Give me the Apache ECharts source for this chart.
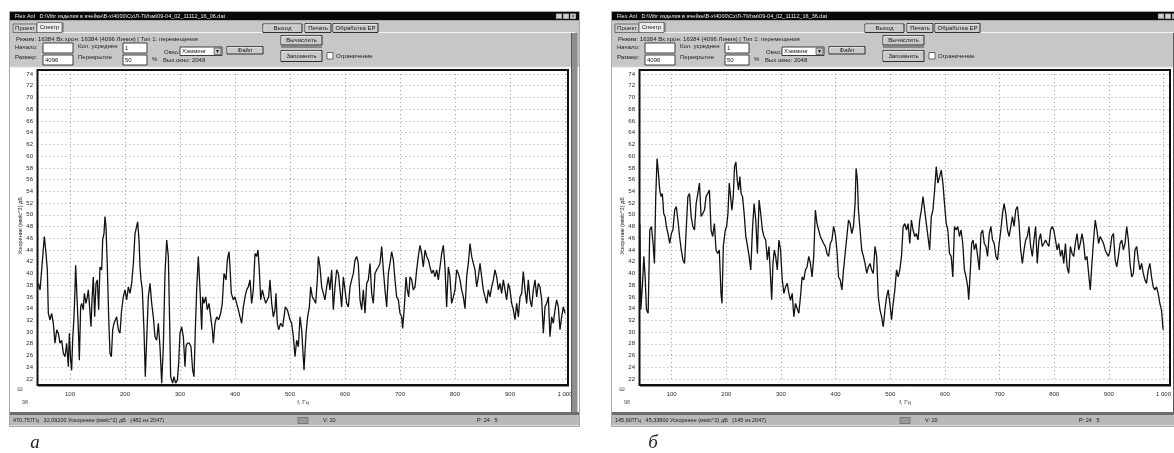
<!DOCTYPE html>
<html>
<head>
<meta charset="utf-8">
<script src="https://cdn.jsdelivr.net/npm/echarts@6/dist/echarts.min.js"></script>
<style>
html, body { margin: 0; padding: 0; background: #ffffff; }
#chart { width: 1174px; height: 453px; }
</style>
</head>
<body>
<div id="chart"></div>
<script>
// Frequency axis (Hz) and level axis (dB) ticks
const freqTicks = { min: 0, max: 1000, step: 100 };
const levelTicks = { min: 22, max: 74, step: 2 };

// Spectrum (а): [frequency, Hz ; acceleration level, dB]
const spectrumA = [
  [42.4,38.3],[45.5,37.2],[48.5,40.6],[53.3,46.3],[56.4,43.4],[58.8,40.6],[60.6,33.2],[63.6,32.1],[66.7,33.2],[69.7,31.5],
  [72.7,28.1],[75.8,30.4],[78.8,29.8],[81.8,28.1],[84.8,28.6],[87.9,26.4],[90.9,25.8],[93.9,28.1],[97.0,24.1],[98.8,29.8],
  [101.2,25.2],[103.0,23.5],[104.8,28.6],[107.3,32.6],[109.1,37.2],[110.3,41.4],[112.1,37.2],[115.2,30.4],[117.0,25.2],[119.4,34.3],
  [121.2,34.9],[124.2,33.8],[126.1,36.6],[129.1,34.9],[131.5,36.0],[133.3,37.2],[135.2,34.9],[138.2,30.9],[140.0,35.5],[142.4,39.4],
  [144.8,32.6],[147.3,38.3],[149.7,38.9],[152.1,33.8],[154.5,41.1],[157.6,40.6],[159.4,45.7],[161.8,46.8],[163.6,49.7],[165.4,48.0],
  [167.9,41.1],[170.3,32.6],[172.7,26.4],[175.2,25.8],[177.6,30.4],[180.0,31.5],[182.4,31.5],[184.8,32.6],[187.9,30.4],[190.9,29.8],
  [193.9,33.8],[197.0,36.0],[200.0,37.2],[203.0,35.5],[206.1,37.7],[209.1,36.6],[212.1,38.3],[215.2,41.7],[218.2,46.8],[221.2,48.0],
  [223.0,48.8],[225.5,45.7],[227.3,41.1],[229.1,38.9],[231.5,37.2],[234.5,30.4],[236.9,22.4],[239.4,28.6],[242.4,36.0],[245.5,38.3],
  [248.5,34.9],[251.5,32.6],[254.5,29.2],[257.6,28.6],[260.6,31.5],[263.6,27.5],[266.7,21.3],[269.7,27.5],[272.7,40.0],[275.8,45.7],
  [278.8,42.9],[280.6,34.3],[283.0,22.4],[286.7,21.3],[289.1,22.4],[292.1,21.3],[295.2,21.8],[297.6,24.7],[300.0,29.8],[303.0,30.9],
  [306.1,29.2],[309.1,24.1],[310.9,27.5],[313.3,28.1],[317.0,28.1],[320.0,27.5],[323.0,23.5],[325.5,22.4],[327.9,30.4],[330.3,37.2],
  [333.3,42.9],[336.4,37.2],[339.4,30.4],[341.2,36.0],[343.6,34.9],[346.7,36.0],[349.7,33.8],[352.7,34.9],[355.8,32.6],[358.8,30.4],
  [360.6,28.1],[363.6,31.5],[366.7,32.6],[370.3,32.1],[373.9,33.2],[376.9,34.9],[380.0,40.0],[383.6,38.9],[386.1,42.3],[389.1,43.7],
  [390.9,41.1],[393.3,36.6],[397.0,35.5],[400.0,36.0],[403.0,34.9],[406.1,33.8],[409.1,32.6],[412.1,31.5],[415.2,34.3],[418.2,36.0],
  [421.2,37.2],[424.2,37.7],[427.3,38.9],[430.3,34.9],[433.3,37.2],[436.4,43.4],[439.4,42.9],[441.8,44.0],[444.2,40.6],[446.7,35.5],
  [449.7,37.2],[452.7,36.0],[455.8,34.9],[458.8,35.5],[461.2,36.0],[463.6,38.9],[466.7,34.9],[469.7,32.6],[472.7,33.8],[474.5,36.6],
  [476.9,31.5],[479.4,30.4],[483.0,31.5],[486.7,30.9],[489.1,32.6],[491.5,34.3],[495.2,33.8],[498.8,34.0],
  [500.0,32.1],[503.0,31.5],[506.1,29.2],[509.1,25.8],[512.1,28.6],[515.2,27.5],[518.2,32.6],[521.2,30.4],[525.5,23.5],[529.1,29.8],
  [532.1,32.6],[535.2,34.3],[537.6,37.7],[540.6,36.0],[543.6,35.5],[546.7,34.9],[549.7,38.9],[551.5,42.9],[554.5,41.1],[557.6,37.7],
  [560.6,36.6],[563.6,35.5],[566.7,37.7],[569.7,39.4],[572.7,37.2],[575.8,40.6],[578.8,33.8],[581.8,37.7],[584.8,40.6],[587.9,40.0],
  [590.9,37.2],[593.9,34.3],[597.0,39.4],[600.0,37.2],[603.0,34.9],[606.1,34.3],[609.1,37.7],[612.1,38.9],[615.2,40.0],[618.2,42.3],
  [621.2,42.9],[624.2,41.7],[627.3,35.5],[630.3,33.8],[633.3,37.2],[636.4,33.2],[639.4,38.3],[642.4,38.9],[645.5,41.7],[648.5,36.6],
  [651.5,34.9],[654.5,40.0],[657.6,40.6],[660.6,41.1],[663.6,41.7],[666.7,44.6],[669.7,40.6],[672.7,37.2],[675.8,34.3],[678.8,40.0],
  [681.8,41.7],[684.8,43.7],[687.9,42.3],[690.9,38.9],[693.9,36.0],[697.0,35.5],[700.0,33.2],[703.0,32.6],[704.8,30.6],[707.9,34.3],
  [710.9,39.4],[713.3,37.2],[715.8,36.0],[718.2,39.4],[721.2,38.9],[724.2,37.2],[727.3,37.7],[730.3,40.6],[733.3,42.9],[736.4,44.8],
  [739.4,43.4],[742.4,41.1],[745.5,44.0],[748.5,42.9],[751.5,42.3],[754.5,41.1],[757.6,40.0],[760.6,40.6],[763.6,39.4],[766.7,40.6],
  [769.7,38.9],[772.7,41.1],[775.8,43.4],[778.8,44.8],[781.8,41.1],[784.8,34.3],[787.9,41.1],[790.9,39.4],[793.9,34.9],[797.0,36.0],
  [800.0,37.2],[803.0,40.6],[806.1,40.0],[809.1,38.9],[812.1,37.2],[815.2,36.0],[818.2,34.0],[821.2,39.4],[824.2,41.7],[827.3,45.1],
  [830.3,42.9],[833.3,41.7],[836.4,40.6],[839.4,37.7],[842.4,39.4],[845.5,41.7],[848.5,39.4],[851.5,37.2],[854.5,36.0],[857.6,34.9],
  [860.6,37.2],[863.6,36.0],[866.7,37.7],[869.7,38.9],[872.7,40.6],[875.8,39.4],[878.8,37.2],[881.8,38.3],[884.8,36.6],[887.9,38.9],
  [890.9,37.2],[893.9,35.5],[897.0,38.3],[900.0,37.2],[903.0,34.9],[906.1,33.8],[909.1,32.1],[912.1,34.9],[915.2,32.6],[918.2,36.0],
  [921.2,36.6],[924.2,40.3],[927.3,37.2],[930.3,34.9],[933.3,38.9],[936.4,35.5],[939.4,34.3],[942.4,37.2],[945.5,38.9],[948.5,36.0],
  [951.5,38.3],[954.5,37.7],[957.6,35.5],[960.6,29.8],[963.6,34.3],[966.7,34.9],[969.7,36.0],[972.7,29.2],[975.8,32.6],[978.8,31.5],
  [981.8,33.8],[984.8,35.5],[987.9,34.3],[990.9,30.4],[993.9,32.6],[997.0,34.3],[1000.0,33.2]
];

// Spectrum (б): [frequency, Hz ; acceleration level, dB]
const spectrumB = [
  [41.8,48.5],[43.6,33.8],[46.7,38.3],[49.1,42.9],[51.5,39.4],[53.9,33.8],[57.0,33.2],[60.0,47.4],[63.0,48.0],[66.1,45.1],
  [68.5,41.7],[70.9,53.1],[73.3,59.6],[75.8,57.1],[78.2,54.2],[80.6,53.1],[83.0,53.6],[85.5,50.2],[87.9,49.7],[90.3,48.0],
  [93.3,46.8],[96.4,45.1],[99.4,46.8],[102.4,47.4],[105.5,50.8],[108.5,51.4],[111.5,49.1],[114.5,46.3],[117.6,44.0],[120.6,42.3],
  [123.6,41.7],[126.6,47.4],[129.7,53.1],[132.7,53.6],[135.7,49.7],[138.8,48.0],[141.8,47.4],[144.8,51.9],[147.9,53.6],[150.9,55.4],
  [153.9,49.7],[157.0,50.2],[160.0,50.8],[163.0,53.1],[166.0,53.6],[169.1,54.2],[172.1,47.4],[175.1,46.3],[178.2,48.5],[181.2,44.0],
  [184.2,43.4],[187.2,44.0],[190.3,36.6],[192.1,34.9],[194.5,44.6],[198.2,47.4],[200.6,48.0],[203.0,50.2],[205.4,55.4],[207.9,53.1],
  [210.3,50.8],[212.7,53.1],[215.1,58.2],[217.6,59.0],[220.0,55.9],[222.4,54.2],[224.8,56.5],[227.2,53.6],[229.7,53.1],[232.7,50.2],
  [235.7,46.3],[238.8,44.6],[241.8,42.9],[244.8,40.6],[247.8,47.4],[250.9,51.9],[253.9,49.1],[256.9,43.4],[260.0,52.5],[263.0,50.2],
  [266.0,47.4],[269.0,46.3],[272.1,45.7],[275.1,42.3],[278.1,44.6],[281.2,38.9],[283.0,35.5],[285.4,41.7],[287.8,44.0],[290.3,42.9],
  [293.3,40.6],[296.3,45.7],[299.3,44.0],[302.4,38.9],[305.4,36.6],[308.4,37.7],[311.5,38.3],[314.5,36.6],[317.5,35.4],[320.6,36.6],
  [323.6,32.6],[326.6,34.9],[329.6,34.9],[332.7,33.2],[335.7,36.0],[338.7,39.4],[341.8,38.9],[344.8,40.6],[347.8,41.1],[350.9,42.9],
  [353.9,41.7],[356.9,39.4],[360.0,42.9],[363.0,50.8],[366.0,48.5],[369.0,47.4],[372.1,46.3],[375.1,45.7],[378.1,45.1],[381.2,44.6],
  [384.2,43.4],[387.2,42.9],[390.3,45.1],[393.3,45.7],[396.3,48.0],[399.3,46.8],[402.4,44.0],[405.4,39.4],[408.4,38.9],[411.5,37.2],
  [414.5,40.6],[417.5,43.4],[420.6,46.3],[423.6,49.1],[426.6,48.5],[429.6,46.8],[432.7,48.0],[435.7,51.9],[437.5,57.9],[439.9,55.9],
  [441.8,50.8],[444.8,47.4],[447.8,44.0],[450.9,42.9],[453.9,41.7],[456.9,40.0],[460.0,41.1],[463.0,41.7],[466.0,40.6],[469.0,40.0],
  [472.1,44.6],[475.1,42.9],[478.1,36.0],[481.2,33.8],[484.2,32.6],[487.2,30.9],[490.3,33.8],[493.3,36.0],[496.3,37.2],[499.3,34.9],
  [502.4,32.1],[505.4,34.9],[508.4,37.2],[511.5,40.6],[514.5,39.4],[517.5,40.6],[520.6,42.9],[523.6,48.0],[526.6,48.5],[529.7,47.4],
  [532.7,48.5],[535.7,45.1],[538.7,49.1],[541.8,47.4],[544.8,46.3],[547.8,46.8],[550.9,45.7],[553.9,49.1],[556.9,50.8],[560.0,53.1],
  [563.0,50.8],[566.0,48.5],[569.0,46.3],[572.1,44.0],[575.1,49.7],[578.1,50.8],[581.2,54.2],[584.2,58.2],[587.2,55.4],[590.3,56.5],
  [593.3,57.6],[596.3,55.4],[599.3,51.9],[602.4,48.5],[605.4,47.4],[608.4,43.4],[611.5,42.9],[614.5,39.4],[617.5,48.0],[620.6,47.4],
  [623.6,48.0],[626.6,46.3],[629.6,47.4],[632.7,45.1],[635.7,40.6],[638.7,39.4],[641.8,37.7],[643.6,35.5],[646.6,40.6],[649.0,45.1],
  [651.5,45.7],[653.9,44.0],[656.9,45.1],[660.0,42.9],[663.0,40.6],[666.0,46.8],[669.0,47.4],[672.1,45.1],[675.1,44.6],[678.1,42.9],
  [681.2,46.8],[684.2,48.0],[687.2,45.7],[690.3,45.1],[693.3,42.9],[696.3,42.3],[699.3,45.1],[702.4,47.4],[705.4,50.2],[708.4,51.9],
  [711.5,50.2],[714.5,47.4],[717.5,46.3],[720.6,48.0],[723.6,49.7],[726.6,48.0],[729.6,50.8],[732.7,51.4],[735.7,48.5],[738.7,44.0],
  [741.8,41.7],[744.8,44.0],[747.8,45.7],[750.9,46.3],[753.9,48.0],[756.9,44.6],[760.0,42.9],[763.0,45.7],[766.0,48.0],[769.0,41.7],
  [772.1,45.7],[775.1,46.8],[778.1,44.6],[781.2,45.1],[784.2,45.7],[787.2,45.1],[790.3,44.6],[793.3,47.4],[796.3,48.0],[799.3,47.4],
  [802.4,45.7],[805.4,44.0],[808.4,45.1],[811.5,42.9],[814.5,44.0],[817.5,41.7],[820.6,45.1],[823.6,41.1],[826.6,40.0],[829.6,44.6],
  [832.7,43.4],[835.7,42.9],[838.7,45.1],[841.8,46.8],[844.8,44.0],[847.8,45.1],[850.9,46.8],[853.9,45.1],[856.9,42.3],[860.0,42.9],
  [863.0,40.0],[866.0,37.2],[869.0,41.7],[872.1,45.7],[875.1,49.1],[878.1,47.4],[881.2,45.1],[884.2,46.3],[887.2,45.7],[890.3,45.1],
  [893.3,44.0],[896.3,43.4],[899.3,42.9],[902.4,44.0],[905.4,46.3],[908.4,46.8],[911.5,42.3],[914.5,41.1],[917.5,42.9],[920.6,45.1],
  [923.6,45.7],[926.6,44.0],[929.6,45.1],[932.7,48.0],[935.7,45.7],[938.7,41.7],[941.8,39.4],[944.8,40.0],[947.8,44.0],[950.9,44.6],
  [953.9,42.3],[956.9,40.6],[960.0,41.7],[963.0,40.0],[966.0,38.9],[969.0,38.3],[972.1,40.6],[975.1,41.7],[978.1,39.4],[981.2,37.7],
  [984.2,37.2],[987.2,37.7],[990.3,36.6],[993.3,34.9],[996.3,33.8],[999.3,30.4]
];

// Texts of the two analyser windows
const windowTitles = [
  'Flex Anl   D:\\Vibr изделия в ячейке\\В-х\\4000\\Сх\\Л-7\\Изм\\09-04_02_11112_16_06.dat',
  'Flex Anl   D:\\Vibr изделия в ячейке\\В-х\\4000\\Сх\\Л-7\\Изм\\09-04_02_11112_16_36.dat'
];
const statusTexts = [
  '470,757Гц   32,09200 Ускорение (мм/с^2) дБ   (482 из 2047)',
  '145,607Гц   45,33800 Ускорение (мм/с^2) дБ   (145 из 2047)'
];
const captions = ['а', 'б'];
const levelName = 'Ускорение (мм/с^2) дБ';
const freqName = 'f, Гц';

const FONT = 'Liberation Sans';
const OFFSET = 602; // horizontal shift of the second window

function chrome(dx, idx) {
  const els = [];
  const rect = (x, y, w, h, fill, stroke, lw, z) => els.push({
    type: 'rect', silent: true, z: z || 1,
    shape: { x: x + dx, y: y, width: w, height: h },
    style: { fill: fill || 'none', stroke: stroke || 'none', lineWidth: lw || 1 }
  });
  const line = (x1, y1, x2, y2, stroke, lw) => els.push({
    type: 'line', silent: true, z: 1,
    shape: { x1: x1 + dx, y1: y1, x2: x2 + dx, y2: y2 },
    style: { stroke: stroke, lineWidth: lw || 1 }
  });
  const text = (x, y, s, o) => els.push({
    type: 'text', silent: true, z: 2, x: x + dx, y: y,
    style: Object.assign({
      text: s, fill: '#1a1a1a', fontSize: 6, fontFamily: FONT,
      textAlign: 'left', textVerticalAlign: 'middle', align: 'left', verticalAlign: 'middle'
    }, o || {})
  });
  const button = (x, y, w, h, label) => {
    rect(x, y, w, h, '#cacaca', '#1c1c1c', 0.9);
    line(x + 0.8, y + 0.8, x + w - 1, y + 0.8, '#f2f2f2', 0.8);
    line(x + 0.8, y + 0.8, x + 0.8, y + h - 1, '#f2f2f2', 0.8);
    text(x + w / 2, y + h / 2 + 0.3, label, { textAlign: 'center', align: 'center' });
  };
  const field = (x, y, w, h, val) => {
    rect(x, y, w, h, '#ffffff', '#2a2a2a', 0.9);
    if (val) text(x + 2, y + h / 2 + 0.3, val);
  };

  // window outline
  rect(9.5, 11.5, 570, 415, 'none', '#a8a8a8', 1);
  // title bar
  rect(10, 12, 569, 8.5, '#070707');
  text(15, 16.3, windowTitles[idx], { fill: '#f0f0f0', fontSize: 5.5 });
  rect(556, 13.5, 6, 5.5, '#cfcfcf', '#333', 0.5);
  rect(563, 13.5, 6, 5.5, '#cfcfcf', '#333', 0.5);
  rect(570, 13.5, 6, 5.5, '#cfcfcf', '#333', 0.5);
  text(559, 16.3, '_', { textAlign: 'center', align: 'center', fontSize: 5 });
  text(573, 16.3, '×', { textAlign: 'center', align: 'center', fontSize: 5 });

  // tab strip and control panel
  rect(10, 20.5, 569, 46.5, '#c7c7c7');
  rect(13, 24, 24, 8.5, '#cdcdcd', '#4a4a4a', 0.7);
  text(25, 28.5, 'Проект', { textAlign: 'center', align: 'center' });
  rect(37, 22.5, 25, 10, '#ededed', '#4a4a4a', 0.7);
  text(49.5, 27.8, 'Спектр', { textAlign: 'center', align: 'center' });
  line(62, 32.5, 575, 32.5, '#f3f3f3', 1);
  line(63, 22.5, 63, 32.5, '#4a4a4a', 0.8);
  button(263, 24, 39, 8.5, 'Выход');
  button(305, 23.5, 26, 9, 'Печать');
  button(333, 23.5, 45, 9, 'Обработка ЕР');

  text(16, 39, 'Режим: 16384 Вх.хрон: 16384 (4096 Линия) | Тип 1: перемещения');
  text(15, 47.2, 'Начало:');
  field(43, 43, 30, 10, '');
  text(78, 46.8, 'Кол. усреднен');
  field(123, 43, 24, 10, '1');
  text(164, 52.5, 'Окно:');
  field(180, 47, 42, 8.5, 'Хэмминг');
  rect(214, 48, 7, 6.5, '#c9c9c9', '#333', 0.6);
  text(217.5, 51.5, '▾', { textAlign: 'center', align: 'center', fontSize: 6 });
  button(227, 46.5, 36, 7.5, 'Файл');
  text(15, 57.8, 'Размер:');
  field(43, 55, 30, 10, '4096');
  text(78, 57.6, 'Перекрытие');
  field(123, 55, 24, 10, '50');
  text(152, 59.5, '%');
  text(163, 60.8, 'Вых.окно: 2048');

  button(281, 35.5, 41, 9.5, 'Вычислить');
  line(281, 47, 322, 47, '#2a2a2a', 0.8);
  button(281, 50.5, 41, 11, 'Запомнить');
  rect(327, 52.5, 6, 6.5, '#ffffff', '#333', 0.7);
  text(336, 56, 'Ограничение');
  line(10, 67.5, 575, 67.5, '#eeeeee', 1.5);

  // right window border
  rect(571.5, 33, 6, 379, '#8e8e8e');
  line(571.5, 33, 571.5, 412, '#5a5a5a', 1);

  // plot frame (drawn over traces)
  rect(37.5, 70, 530.5, 315, 'none', '#101010', 2, 60);
  line(38, 386.5, 569, 386.5, '#8a8a8a', 1);

  // small markers under the level axis
  text(20, 389.5, 'Ш', { fontSize: 6, fill: '#555', textAlign: 'center', align: 'center' });
  text(25, 402, '98', { fontSize: 5.5, fill: '#555', textAlign: 'center', align: 'center' });

  // axis names
  els.push({
    type: 'text', silent: true, z: 2, x: 20 + dx, y: 226, rotation: Math.PI / 2,
    style: { text: levelName, fill: '#222', fontSize: 5.5, fontFamily: FONT,
      textAlign: 'center', textVerticalAlign: 'middle', align: 'center', verticalAlign: 'middle' }
  });
  text(303, 402.5, freqName, { textAlign: 'center', align: 'center', fontSize: 6, fill: '#333' });

  // status bar
  rect(10, 412, 569, 3, '#6c6c6c');
  rect(10, 415, 569, 10.5, '#b9b9b9');
  text(13, 420.3, statusTexts[idx], { fontSize: 5.5 });
  rect(298, 417.5, 10, 6, '#9a9a9a', '#555', 0.6);
  text(323, 420.3, 'V: 20', { fontSize: 5.5 });
  text(477, 420.3, 'P: 24   5', { fontSize: 5.5 });

  // caption letter (absolute position)
  els.push({
    type: 'text', silent: true, z: 2, x: idx === 0 ? 35 : 653, y: 443,
    style: { text: captions[idx], fontSize: 19, fontFamily: 'Liberation Serif', fontStyle: 'italic',
      fill: '#222', textAlign: 'center', textVerticalAlign: 'middle', align: 'center', verticalAlign: 'middle' }
  });
  return els;
}

const chart = echarts.init(document.getElementById('chart'), null, { renderer: 'canvas' });

// For each panel: grid "trace" carries the frequency scale and the spectrum,
// grid "scale" spans only the framed area and carries the level labels and rows.
const grids = [];
const xAxes = [];
const yAxes = [];
const series = [];
[spectrumA, spectrumB].forEach((data, i) => {
  const dx = i * OFFSET;
  const gTrace = grids.length;
  grids.push({ left: 15 + dx, width: 550, top: 74, height: 305 });
  const gScale = grids.length;
  grids.push({ left: 37.5 + dx, width: 530.5, top: 74, height: 305 });

  xAxes.push({
    type: 'value', gridIndex: gTrace,
    min: freqTicks.min, max: freqTicks.max, interval: freqTicks.step,
    axisLine: { show: false }, axisTick: { show: false },
    axisLabel: {
      showMinLabel: false, fontSize: 6, fontFamily: FONT, color: '#2a2a2a', margin: 12,
      formatter: v => (v === 1000 ? '1 000' : String(v))
    },
    splitLine: { show: true, showMinLine: false, lineStyle: { color: '#9c9c9c', width: 1, type: [1, 3] } }
  });
  xAxes.push({ type: 'value', gridIndex: gScale, min: 0, max: 1, show: false });

  yAxes.push({
    type: 'value', gridIndex: gTrace,
    min: levelTicks.min, max: levelTicks.max, interval: levelTicks.step, show: false
  });
  yAxes.push({
    type: 'value', gridIndex: gScale,
    min: levelTicks.min, max: levelTicks.max, interval: levelTicks.step,
    axisLine: { show: false }, axisTick: { show: false },
    axisLabel: { fontSize: 6, fontFamily: FONT, color: '#2a2a2a', margin: 4.5 },
    splitLine: { show: true, lineStyle: { color: '#a4a4a4', width: 1, type: [1, 3] } }
  });

  series.push({
    type: 'line', xAxisIndex: gTrace, yAxisIndex: gTrace, data: data,
    showSymbol: false, clip: false, silent: true,
    lineStyle: { color: '#121212', width: 1.3 },
    z: 5
  });
});

chart.setOption({
  animation: false,
  backgroundColor: '#ffffff',
  grid: grids,
  xAxis: xAxes,
  yAxis: yAxes,
  series: series,
  graphic: { elements: chrome(0, 0).concat(chrome(OFFSET, 1)) }
});
</script>
</body>
</html>
